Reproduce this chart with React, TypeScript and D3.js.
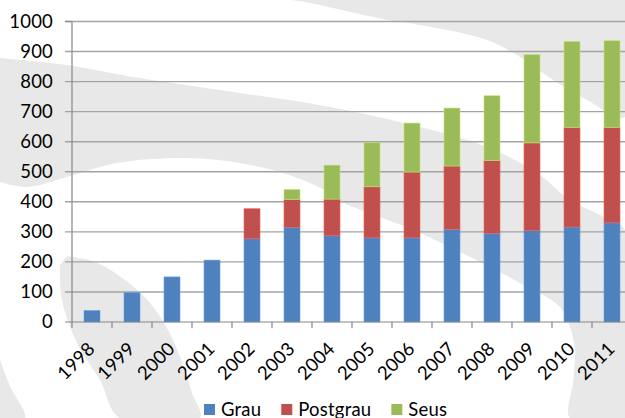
import { useEffect, useRef } from "react";
import * as d3 from "d3";

// chart data
const years = ["1998", "1999", "2000", "2001", "2002", "2003", "2004", "2005", "2006", "2007", "2008", "2009", "2010", "2011"];
const grau = [38, 98, 150, 206, 277, 315, 287, 280, 280, 308, 295, 304, 316, 330];
const postgrau = [0, 0, 0, 0, 100, 92, 122, 170, 219, 211, 242, 292, 331, 317];
const seus = [0, 0, 0, 0, 0, 34, 113, 147, 163, 193, 216, 294, 287, 289];
const seriesNames = ["Grau", "Postgrau", "Seus"];
const seriesColors = ["#4F81BD", "#C0504D", "#9BBB59"];
const yTicks = [0, 100, 200, 300, 400, 500, 600, 700, 800, 900, 1000];

// grey swooshes in the background (decoration only)
const swooshes: [number, number][][] = [
  [[290, 0], [305, 2], [388, 20], [420, 25], [487, 40], [520, 57], [553, 80], [587, 100], [625, 117], [625, 0]],
  [[0, 58], [67, 65], [133, 77], [233, 92], [330, 107], [420, 127], [487, 147], [537, 173], [570, 200], [600, 215], [625, 230],
   [625, 418], [570, 418], [573, 383], [575, 350], [570, 327], [560, 307], [520, 283], [420, 233], [338, 200], [330, 193],
   [283, 173], [233, 162], [183, 158], [117, 163], [67, 177], [27, 187], [0, 182]],
  [[60, 265], [62, 300], [78, 345], [100, 380], [120, 418], [200, 418], [192, 393], [182, 362], [168, 330], [150, 303],
   [125, 280], [95, 262], [67, 256]],
  [[0, 360], [10, 386], [25, 418], [0, 418]],
];

export default function App() {
  const ref = useRef<SVGSVGElement>(null);

  useEffect(() => {
    document.body.style.margin = "0";
    const width = 625, height = 418;
    const marginLeft = 72, marginTop = 21.5, plotBottom = 322;
    const font = "Lato, 'Open Sans', sans-serif";
    const fontSize = 18.5;

    const svg = d3.select(ref.current);
    svg.selectAll("*").remove();

    svg.append("rect").attr("width", width).attr("height", height).attr("fill", "white");

    const shape = d3.line().curve(d3.curveCatmullRom.alpha(0.5));
    svg.append("g")
      .selectAll("path")
      .data(swooshes)
      .join("path")
      .attr("d", d => shape(d) + "Z")
      .attr("fill", "#e8e8e8");

    const x = d3.scaleBand<string>()
      .domain(years)
      .range([marginLeft, marginLeft + 40 * years.length])
      .paddingInner(0.6)
      .paddingOuter(0.3);
    const xCell = d3.scaleBand<string>()
      .domain(years)
      .range([marginLeft, marginLeft + 40 * years.length]);

    const y = d3.scaleLinear().domain([0, 1000]).range([plotBottom, marginTop]);

    // gridlines + y ticks
    svg.append("g")
      .selectAll("line")
      .data(yTicks.filter(t => t > 0))
      .join("line")
      .attr("x1", marginLeft - 7)
      .attr("x2", width + 10)
      .attr("y1", d => y(d))
      .attr("y2", d => y(d))
      .attr("stroke", "#a3a3a3")
      .attr("stroke-width", 1.4);

    // stacked bars
    const table = years.map((yr, i) => ({ year: yr, Grau: grau[i], Postgrau: postgrau[i], Seus: seus[i] }));
    const stacked = d3.stack<any>().keys(seriesNames)(table);
    svg.append("g")
      .selectAll("g")
      .data(stacked)
      .join("g")
      .attr("fill", (_, i) => seriesColors[i])
      .attr("stroke", (_, i) => d3.color(seriesColors[i])!.brighter(0.6).formatHex())
      .attr("stroke-width", 0.6)
      .selectAll("rect")
      .data(d => d.filter(p => p[1] - p[0] > 0))
      .join("rect")
      .attr("x", d => x(d.data.year)!)
      .attr("width", x.bandwidth())
      .attr("y", d => y(d[1]))
      .attr("height", d => y(d[0]) - y(d[1]));

    // axes
    const axis = svg.append("g").attr("stroke", "#868686").attr("stroke-width", 1.2);
    axis.append("line")
      .attr("x1", marginLeft).attr("x2", marginLeft)
      .attr("y1", marginTop).attr("y2", plotBottom + 6);
    axis.append("line")
      .attr("x1", marginLeft - 7).attr("x2", width + 10)
      .attr("y1", plotBottom).attr("y2", plotBottom);
    axis.selectAll(".xt")
      .data(years)
      .join("line")
      .attr("x1", d => xCell(d)! + xCell.bandwidth())
      .attr("x2", d => xCell(d)! + xCell.bandwidth())
      .attr("y1", plotBottom)
      .attr("y2", plotBottom + 6);
    axis.append("line")
      .attr("x1", marginLeft - 7).attr("x2", marginLeft)
      .attr("y1", y(1000)).attr("y2", y(1000));

    // y labels
    svg.append("g")
      .attr("font-family", font)
      .attr("font-size", fontSize)
      .attr("fill", "#000")
      .attr("text-anchor", "end")
      .selectAll("text")
      .data(yTicks)
      .join("text")
      .attr("x", 53)
      .attr("y", d => y(d))
      .attr("dy", "0.35em")
      .attr("letter-spacing", 0.2)
      .text(d => d);

    // x labels
    svg.append("g")
      .attr("font-family", font)
      .attr("font-size", fontSize)
      .attr("fill", "#000")
      .attr("text-anchor", "end")
      .selectAll("text")
      .data(years)
      .join("text")
      .attr("transform", d => `translate(${xCell(d)! + xCell.bandwidth() / 2 + 4},${plotBottom + 28}) rotate(-45)`)
      .attr("letter-spacing", 0.2)
      .text(d => d);

    // legend
    const legend = svg.append("g").attr("font-family", font).attr("font-size", fontSize);
    let lx = 204;
    seriesNames.forEach((name, i) => {
      legend.append("rect")
        .attr("x", lx).attr("y", 404).attr("width", 11).attr("height", 11)
        .attr("fill", seriesColors[i]);
      const t = legend.append("text")
        .attr("x", lx + 17).attr("y", 415.5)
        .attr("fill", "#000")
        .attr("letter-spacing", 0.2)
        .text(name);
      const w = (t.node() as SVGTextElement).getComputedTextLength();
      lx += 17 + w + 20;
    });
  }, []);

  return (
    <svg ref={ref} width={625} height={418} style={{ display: "block" }} />
  );
}
